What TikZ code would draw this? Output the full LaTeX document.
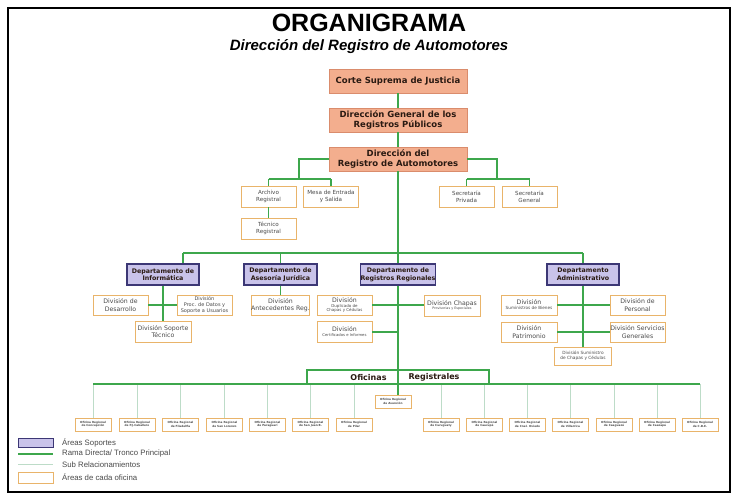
\documentclass[tikz,border=0pt]{standalone}
\usepackage{fontspec}
\setmainfont{Liberation Sans}
\newfontfamily\dvs{DejaVu Sans}
\definecolor{salfill}{HTML}{F3AE8E}
\definecolor{salbord}{HTML}{DA8C6C}
\definecolor{purfill}{HTML}{C9C3EA}
\definecolor{purbord}{HTML}{3C3775}
\definecolor{orab}{HTML}{E9B46A}
\definecolor{trunk}{HTML}{3DA74C}
\definecolor{subl}{HTML}{BDDCC8}
\definecolor{boxtext}{HTML}{4A4A4A}
\definecolor{dark}{HTML}{2A1A12}
\tikzset{
  topbox/.style={draw=salbord, fill=salfill, line width=0.7pt, inner sep=0pt,
    align=center, text=dark, font=\dvs\bfseries\fontsize{8.5}{10}\selectfont},
  deptbox/.style={draw=purbord, fill=purfill, line width=1.3pt, inner sep=0pt,
    align=center, text=dark, font=\dvs\bfseries\fontsize{6.3}{7.6}\selectfont,
    minimum height=21},
  obox/.style={draw=orab, fill=white, line width=0.7pt, inner sep=0pt,
    align=center, text=boxtext, font=\dvs\fontsize{6.2}{7.6}\selectfont},
  sbox/.style={obox, font=\dvs\fontsize{5.6}{7}\selectfont, minimum width=55, minimum height=21},
  ofi/.style={draw=orab, fill=white, line width=0.6pt, inner sep=0pt,
    align=center, text=boxtext, font=\dvs\bfseries\fontsize{2.8}{3.4}\selectfont,
    minimum width=36, minimum height=13},
  main/.style={draw=trunk, line width=1.6pt},
  subline/.style={draw=subl, line width=0.8pt},
  legtext/.style={anchor=west, text=boxtext, font=\fontsize{7.8}{9}\selectfont, inner sep=0pt}
}
\begin{document}
\begin{tikzpicture}[x=1pt,y=-1pt]
\useasboundingbox (0,0) rectangle (738,500);
\fill[white] (0,0) rectangle (738,500);
\draw[line width=1.5pt, black] (8,8) rectangle (730,492);

% titles
\node[font=\bfseries\fontsize{25}{28}\selectfont, inner sep=0pt] (title) at (369,23) {ORGANIGRAMA};
\node[font=\bfseries\itshape\fontsize{15}{17}\selectfont, inner sep=0pt] (subtitle) at (369,47) {Dirección del Registro de Automotores};

% top chain
\node[topbox, minimum width=138, minimum height=24] (corte) at (398,81) {Corte Suprema de Justicia};
\node[topbox, minimum width=138, minimum height=24] (dgrp) at (398,120) {Dirección General de los\\Registros Públicos};
\node[topbox, minimum width=138, minimum height=24] (dra) at (398,159) {Dirección del\\Registro de Automotores};

% staff boxes
\node[sbox] (archivo) at (268.5,196.5) {Archivo\\Registral};
\node[sbox] (mesa) at (331,196.5) {Mesa de Entrada\\y Salida};
\node[sbox] (tecnico) at (268.5,228.5) {Técnico\\Registral};
\node[sbox] (secpriv) at (466.5,196.5) {Secretaría\\Privada};
\node[sbox] (secgen) at (529.5,196.5) {Secretaría\\General};

% departments
\node[deptbox, minimum width=72] (dinf) at (163,274.5) {Departamento de\\Informática};
\node[deptbox, minimum width=73] (dase) at (280.5,274.5) {Departamento de\\Asesoría Jurídica};
\node[deptbox, minimum width=72] (dreg) at (398,274.5) {Departamento de\\Registros Regionales};
\node[deptbox, minimum width=72] (dadm) at (583,274.5) {Departamento\\Administrativo};

% divisions
\node[obox, minimum width=55, minimum height=20] (desarrollo) at (120.5,305) {División de\\Desarrollo};
\node[obox, minimum width=55, minimum height=20, font=\dvs\fontsize{5}{5.8}\selectfont] (proc) at (204.5,305) {División\\Proc. de Datos y\\Soporte a Usuarios};
\node[obox, minimum width=56, minimum height=21] (soporte) at (163,331.5) {División Soporte\\Técnico};
\node[obox, minimum width=55, minimum height=20] (antec) at (280.5,305) {División\\Antecedentes Reg.};
\node[obox, minimum width=55, minimum height=20, font=\dvs\fontsize{4}{4.8}\selectfont] (duplic) at (344.5,305) {{\fontsize{6.2}{6.8}\selectfont División}\\Duplicado de\\Chapas y Cédulas};
\node[obox, minimum width=55, minimum height=21, font=\dvs\fontsize{3.8}{4.8}\selectfont] (certif) at (344.5,331.5) {{\fontsize{6.2}{7.4}\selectfont División}\\Certificados e Informes};
\node[obox, minimum width=56, minimum height=21, font=\dvs\fontsize{3.3}{4.2}\selectfont] (chapas) at (452,305.5) {{\fontsize{6.2}{7.4}\selectfont División Chapas}\\Provisorias y Especiales};
\node[obox, minimum width=56, minimum height=20, font=\dvs\fontsize{4.2}{5}\selectfont] (sumbien) at (529,305) {{\fontsize{6.2}{7.4}\selectfont División}\\Suministros de Bienes};
\node[obox, minimum width=55, minimum height=20] (personal) at (637.5,305) {División de\\Personal};
\node[obox, minimum width=56, minimum height=20] (patrim) at (529,332) {División\\Patrimonio};
\node[obox, minimum width=55, minimum height=20] (servgen) at (637.5,332) {División Servicios\\Generales};
\node[obox, minimum width=57, minimum height=18, font=\dvs\fontsize{4.3}{5.4}\selectfont] (sumchap) at (583,356) {División Suministro\\de Chapas y Cédulas};

% oficinas registrales header
\coordinate (ofTL) at (307,370);
\coordinate (ofBR) at (489,384);
\node[font=\dvs\bfseries\fontsize{8}{9}\selectfont, text=dark, inner sep=0pt] (ofic1) at (368.5,377.5) {Oficinas};
\node[font=\dvs\bfseries\fontsize{8}{9}\selectfont, text=dark, inner sep=0pt] (ofic2) at (434,377.5) {Registrales};

% offices
\node[ofi] (asun) at (393,401.5) {Oficina Regional\\de Asunción};
\node[ofi] (o1) at (93,424.5) {Oficina Regional\\de Concepción};
\node[ofi] (o2) at (137,424.5) {Oficina Regional\\de P.J.Caballero};
\node[ofi] (o3) at (180.5,424.5) {Oficina Regional\\de Filadelfia};
\node[ofi] (o4) at (224.5,424.5) {Oficina Regional\\de San Lorenzo};
\node[ofi] (o5) at (267.5,424.5) {Oficina Regional\\de Paraguarí};
\node[ofi] (o6) at (310.5,424.5) {Oficina Regional\\de San Juan B.};
\node[ofi] (o7) at (354,424.5) {Oficina Regional\\de Pilar};
\node[ofi] (o8) at (441,424.5) {Oficina Regional\\de Curuguaty};
\node[ofi] (o9) at (484.5,424.5) {Oficina Regional\\de Caacupé};
\node[ofi] (o10) at (527.5,424.5) {Oficina Regional\\de Cnel. Oviedo};
\node[ofi] (o11) at (570.5,424.5) {Oficina Regional\\de Villarrica};
\node[ofi] (o12) at (614,424.5) {Oficina Regional\\de Caaguazú};
\node[ofi] (o13) at (657,424.5) {Oficina Regional\\de Caazapá};
\node[ofi] (o14) at (700,424.5) {Oficina Regional\\de C.D.E.};

% ---- connectors ----
\coordinate (lineY) at (0,384);
\foreach \o in {o1,o2,o3,o4,o5,o6,o7,o8,o9,o10,o11,o12,o13,o14}{
  \draw[subline] (\o.north) -- (\o.north |- lineY);
}
% trunk
\draw[main] (corte.south) -- (dgrp.north);
\draw[main] (dgrp.south) -- (dra.north);
\draw[main] (dra.south) -- (dreg.north);
\draw[main] (dreg.south) -- (asun.north -| dreg.south);
% left staff
\coordinate (lst) at (299,179);
\draw[main] (dra.west |- 0,159) -| (lst);
\draw[main] (archivo.north |- lst) -- (mesa.north |- lst);
\draw[main] (archivo.north |- lst) -- (archivo.north);
\draw[main] (mesa.north |- lst) -- (mesa.north);
\draw[main] (archivo.south) -- (tecnico.north);
% right staff
\coordinate (rst) at (497,179);
\draw[main] (dra.east |- 0,159) -| (rst);
\draw[main] (secpriv.north |- rst) -- (secgen.north |- rst);
\draw[main] (secpriv.north |- rst) -- (secpriv.north);
\draw[main] (secgen.north |- rst) -- (secgen.north);
% departments bar
\coordinate (dbar) at (0,253);
\coordinate (dinfdrop) at (183,253);
\draw[main] (dinfdrop) -- (dadm.north |- dbar);
\draw[main] (dinfdrop) -- (dinfdrop |- dinf.north);
\draw[main] (dase.north |- dbar) -- (dase.north);
\draw[main] (dadm.north |- dbar) -- (dadm.north);
% informatica
\draw[main] (dinf.south) -- (soporte.north);
\draw[main] (desarrollo.east) -- (proc.west);
% asesoria
\draw[main] (dase.south) -- (antec.north);
% registros regionales
\coordinate (certj) at (398,332);
\draw[main] (duplic.east) -- (chapas.west |- duplic.east);
\draw[main] (certif.east |- certj) -- (certj);
% administrativo
\draw[main] (dadm.south) -- (sumchap.north);
\draw[main] (sumbien.east) -- (personal.west);
\draw[main] (patrim.east) -- (servgen.west);
% oficinas registrales
\draw[main] (o1.north |- lineY) -- (o14.north |- lineY);
\draw[main] (ofTL |- ofBR) -- (ofTL) -- (ofBR |- ofTL) -- (ofBR);

% legend
\node[deptbox, minimum width=35, minimum height=9, line width=1pt] (lg1) at (35.5,442.5) {};
\node[legtext] (lt1) at (62,442.5) {Áreas Soportes};
\coordinate (lg2a) at (18,454);
\coordinate (lg2b) at (53,454);
\draw[main, line width=1.3pt] (lg2a) -- (lg2b);
\node[legtext] (lt2) at (62,453.5) {Rama Directa/ Tronco Principal};
\coordinate (lg3a) at (18,464.5);
\coordinate (lg3b) at (53,464.5);
\draw[subline] (lg3a) -- (lg3b);
\node[legtext] (lt3) at (62,465) {Sub Relacionamientos};
\node[obox, minimum width=35, minimum height=11] (lg4) at (35.5,477.5) {};
\node[legtext] (lt4) at (62,477.5) {Áreas de cada oficina};
\end{tikzpicture}
\end{document}
